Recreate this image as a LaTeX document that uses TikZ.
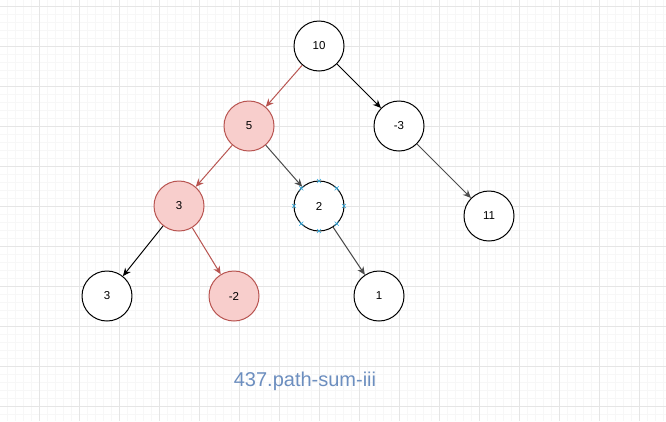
\documentclass[tikz,border=0pt]{standalone}
\usepackage{fontspec}
\setmainfont{Liberation Sans}
\usetikzlibrary{arrows.meta}
\definecolor{redfill}{HTML}{F8CECC}
\definecolor{redline}{HTML}{B85450}
\definecolor{titleblue}{HTML}{6C8EBF}
\definecolor{markblue}{HTML}{29A8E0}
\tikzset{
  treenode/.style={circle,draw=black,fill=white,line width=1pt,minimum size=50pt,inner sep=0pt,font=\fontsize{11.5}{13}\selectfont},
  hotnode/.style={treenode,draw=redline,fill=redfill},
  edge/.style={-{Stealth[length=8pt,width=7pt]},line width=1pt,black},
  hotedge/.style={edge,redline},
  greyedge/.style={edge,black!70}
}
\begin{document}
\begin{tikzpicture}[x=1pt,y=-1pt,line join=round]
\useasboundingbox[fill=white](0,0)rectangle(666,421);
% background grid
\foreach \x in {7,15,...,663}\draw[black!3,line width=0.5pt](\x,0)--(\x,421);
\foreach \y in {6,14,...,421}\draw[black!3,line width=0.5pt](0,\y)--(666,\y);
\foreach \x in {39,79,...,663}\draw[black!10,line width=0.6pt](\x,0)--(\x,421);
\foreach \y in {6,46,...,421}\draw[black!10,line width=0.6pt](0,\y)--(666,\y);
% tree
\node[treenode](n10)at(319,46){10};
\node[hotnode](n5)at(249,126){5};
\node[treenode](nm3)at(399,126){-3};
\node[hotnode](n3a)at(179,206){3};
\node[treenode](n2)at(319,206){2};
\node[treenode](n11)at(489,216){11};
\node[treenode](n3b)at(107,296){3};
\node[hotnode](nm2)at(234,296){-2};
\node[treenode](n1)at(379,296){1};
\draw[hotedge](n10)--(n5);
\draw[edge](n10)--(nm3);
\draw[hotedge](n5)--(n3a);
\draw[greyedge](n5)--(n2);
\draw[greyedge](nm3)--(n11);
\draw[edge](n3a)--(n3b);
\draw[hotedge](n3a)--(nm2);
\draw[greyedge](n2)--(n1);
% selection marks
\foreach \a in {0,45,...,315}
\draw[markblue,line width=0.6pt]([shift={(\a:25)}]n2.center)+(-2,-2)--+(2,2)+(-2,2)--+(2,-2);
\node[text=titleblue,font=\fontsize{20}{23}\selectfont](title)at(305,381){437.path-sum-iii};
\end{tikzpicture}
\end{document}
